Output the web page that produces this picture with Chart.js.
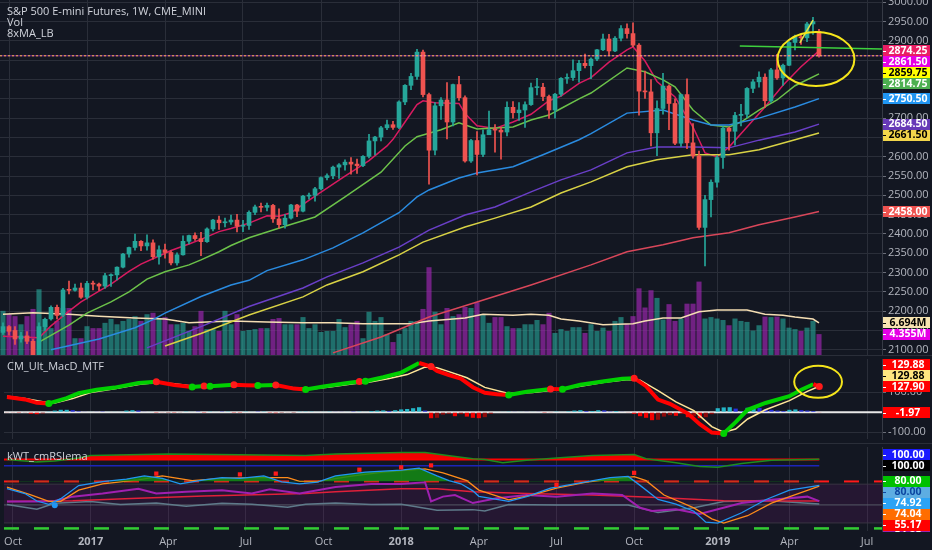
<!DOCTYPE html>
<html><head><meta charset="utf-8">
<script src="https://cdn.jsdelivr.net/npm/chart.js@4.4.1/dist/chart.umd.min.js"></script>
<style>
html,body{margin:0;padding:0;background:#131722;}
#wrap{position:relative;width:932px;height:550px;overflow:hidden;background:#131722;font-family:'Open Sans',sans-serif;}
canvas{position:absolute;left:0;}
.ttl{position:absolute;left:7px;color:#d1d4dc;font-size:11px;line-height:11px;white-space:nowrap;}
.sep{position:absolute;left:0;width:932px;height:1px;background:#2a2e39;}
</style></head><body>
<div id="wrap">
<canvas id="c1" width="932" height="355" style="top:0px"></canvas>
<canvas id="c2" width="932" height="88" style="top:355px"></canvas>
<canvas id="c3" width="932" height="107" style="top:443px"></canvas>
<div class="sep" style="top:355px"></div>
<div class="sep" style="top:443px"></div>
<div class="ttl" style="top:5px">S&amp;P 500 E-mini Futures, 1W, CME_MINI</div>
<div class="ttl" style="top:16px">Vol</div>
<div class="ttl" style="top:27px">8xMA_LB</div>
<div class="ttl" style="top:360px">CM_Ult_MacD_MTF</div>
<div class="ttl" style="top:450px">kWT_cmRSIema</div>
</div>
<script>
// ---------------- DATA ----------------
const N_SLOTS = 147;                       // weekly slots on the time axis
const firstWeekUTC = Date.UTC(2016, 8, 26); // first weekly bar
const tickIdx  = [1, 14, 27, 40, 53, 66, 79, 92, 105, 119, 131, 144];
const tickText = ['Oct','2017','Apr','Jul','Oct','2018','Apr','Jul','Oct','2019','Apr','Jul'];
const priceTicks = [2100,2150,2200,2250,2300,2350,2400,2450,2500,2550,2600,2650,2700,2750,2800,2850,2900,2950,3000];
const macdTicks = [-100, 0, 100];

const open = [2145,2160,2150,2128,2136,2122,2085,2160,2180,2210,2190,2256,2254,2260,2236,2272,2270,2265,2292,2294,
2314,2348,2365,2381,2369,2377,2341,2359,2352,2325,2346,2381,2396,2388,2380,2413,2436,2429,2431,2436,
2420,2422,2456,2470,2469,2474,2439,2424,2441,2475,2459,2498,2500,2517,2546,2551,2573,2579,2586,2581,
2577,2601,2641,2651,2675,2683,2676,2742,2785,2808,2871,2761,2617,2732,2747,2690,2787,2753,2589,2642,
2606,2657,2670,2669,2664,2728,2714,2721,2735,2779,2780,2756,2721,2762,2803,2805,2823,2842,2836,2853,
2877,2905,2874,2907,2932,2919,2889,2770,2768,2662,2725,2783,2738,2635,2761,2636,2602,2417,2489,2534,
2598,2674,2666,2707,2710,2777,2794,2806,2745,2825,2804,2837,2896,2910,2908,2944,2925];
const high = [2170,2163,2160,2145,2147,2128,2170,2182,2214,2216,2259,2278,2270,2273,2277,2278,2273,2298,2297,2315,
2350,2366,2400,2383,2398,2385,2369,2374,2356,2351,2395,2397,2403,2404,2416,2438,2446,2441,2449,2451,
2435,2460,2475,2480,2480,2477,2465,2451,2477,2477,2500,2506,2521,2548,2556,2576,2582,2592,2598,2594,
2603,2658,2653,2679,2695,2692,2745,2787,2816,2878,2876,2765,2740,2753,2792,2788,2808,2758,2645,2665,
2670,2718,2683,2676,2742,2743,2740,2742,2791,2803,2790,2760,2764,2805,2815,2851,2850,2866,2856,2878,
2918,2917,2911,2940,2944,2947,2893,2822,2800,2745,2816,2786,2750,2762,2802,2686,2615,2500,2540,2603,
2678,2677,2715,2736,2779,2800,2820,2815,2829,2865,2840,2898,2915,2918,2948,2961,2930];
const low = [2140,2138,2114,2120,2116,2080,2028,2150,2177,2180,2186,2245,2252,2233,2232,2255,2254,2259,2264,2281,
2312,2340,2358,2357,2358,2335,2322,2337,2320,2319,2345,2374,2383,2344,2378,2408,2412,2418,2425,2405,
2406,2412,2450,2457,2460,2430,2415,2415,2438,2445,2457,2490,2485,2514,2540,2543,2544,2565,2555,2557,
2574,2597,2605,2641,2670,2671,2673,2735,2774,2800,2755,2529,2605,2697,2646,2680,2746,2586,2585,2553,
2600,2657,2612,2594,2654,2700,2694,2676,2733,2760,2745,2699,2700,2757,2790,2798,2793,2830,2802,2849,
2875,2863,2872,2900,2907,2885,2708,2751,2628,2603,2710,2670,2631,2627,2621,2596,2412,2317,2444,2521,
2570,2617,2630,2680,2701,2766,2780,2728,2741,2800,2785,2836,2877,2891,2898,2917,2858];
const close = [2160,2148,2128,2136,2122,2081,2160,2179,2210,2189,2255,2254,2260,2236,2272,2270,2265,2292,2294,2314,
2348,2365,2381,2369,2377,2341,2359,2352,2325,2346,2381,2396,2388,2380,2413,2436,2429,2431,2436,2420,
2422,2456,2470,2469,2474,2439,2424,2441,2475,2459,2498,2500,2517,2546,2551,2573,2579,2586,2581,2577,
2601,2641,2651,2675,2683,2676,2742,2785,2808,2871,2761,2617,2732,2747,2690,2787,2753,2589,2642,2606,
2657,2670,2669,2664,2728,2714,2721,2735,2779,2780,2756,2721,2762,2803,2805,2823,2842,2836,2853,2877,
2905,2874,2907,2932,2919,2889,2770,2768,2662,2725,2783,2738,2635,2761,2636,2602,2417,2489,2534,2598,
2674,2666,2707,2710,2777,2794,2806,2745,2825,2804,2837,2896,2910,2908,2944,2950,2861.5];
const volumeM = [9.2,8.5,8.1,6.4,8.1,9.6,13.7,7.5,5.6,7.1,9.8,9.8,3.5,3.5,6.0,5.6,5.6,6.7,7.5,6.4,
7.1,7.5,8.1,7.1,8.5,8.8,7.7,7.9,6.4,6.4,6.7,5.0,6.0,9.2,5.4,5.4,5.0,9.2,6.4,8.5,
5.0,5.2,5.4,5.6,5.6,7.5,7.7,6.4,6.4,6.4,7.9,5.6,6.4,4.8,5.0,5.0,7.5,5.8,6.4,7.1,
3.5,9.0,7.1,7.9,4.4,2.7,4.4,5.6,7.1,7.1,9.6,18.3,9.0,6.4,9.8,8.1,8.5,10.0,9.8,11.0,
8.5,6.7,7.9,7.9,6.0,5.6,5.6,6.4,6.4,7.3,6.4,8.8,4.6,5.4,5.0,5.8,5.8,4.6,6.4,5.0,
5.7,5.0,7.1,7.9,6.5,8.1,13.9,9.9,13.5,11.9,7.4,10.6,7.1,7.6,10.7,10.7,15.3,7.6,7.9,7.6,
7.3,6.2,7.6,7.1,6.9,5.1,6.2,8.0,7.9,8.0,7.6,5.7,5.4,5.0,5.7,7.1,4.355];
const volMA = [[0,8.5],[5,8.8],[11,8.5],[16,8.1],[22,7.7],[27,7.5],[31,6.7],[38,7.1],[44,6.9],[50,6.7],[55,6.7],[60,6.5],[68,6.5],[71,7.1],[77,7.7],[80,8.5],[85,8.3],[88,8.5],[91,8.3],[93,7.5],[96,7.1],[100,6.3],[105,6.5],[107,7.1],[110,7.7],[113,7.7],[116,9.0],[119,9.4],[124,9.4],[127,8.5],[130,8.3],[132,7.9],[135,7.5],[136,6.694]];

// moving averages: [week index, price]
const maCrimson = [[0,2135],[3,2133],[6,2131],[8,2162],[11,2200],[13,2224],[16,2252],[18,2270],[21,2303],[23,2322],[26,2343],[28,2357],[31,2374],[33,2386],[36,2406],[38,2414],[41,2428],[44,2447],[46,2446],[48,2455],[52,2498],[57,2550],[61,2590],[64,2628],[65,2645],[67,2690],[69,2735],[70,2745],[72,2740],[76,2738],[77,2712],[79,2680],[82,2673],[85,2690],[88,2710],[91,2745],[93,2757],[96,2790],[98,2805],[101,2845],[104,2877],[105,2885],[107,2848],[109,2795],[112,2755],[115,2677],[117,2610],[119,2600],[121,2625],[124,2677],[127,2729],[130,2785],[133,2833],[136,2874.25]];
const maGreen = [[6,2120],[11,2164],[14,2195],[18,2224],[21,2250],[24,2283],[27,2302],[31,2320],[33,2333],[36,2354],[38,2370],[41,2390],[44,2405],[47,2420],[52,2444],[57,2496],[63,2560],[67,2628],[69,2652],[73,2670],[76,2688],[79,2672],[85,2677],[88,2695],[91,2708],[93,2725],[96,2750],[98,2765],[104,2830],[107,2820],[110,2799],[112,2781],[115,2721],[118,2682],[121,2677],[123,2690],[126,2721],[129,2747],[132,2784],[136,2814.75]];
const maBlue = [[8,2100],[16,2128],[22,2157],[25,2178],[27,2195],[33,2238],[38,2268],[41,2280],[44,2305],[50,2333],[55,2364],[60,2403],[66,2455],[69,2496],[71,2514],[76,2545],[79,2558],[85,2574],[90,2605],[96,2644],[98,2660],[104,2713],[110,2721],[115,2695],[118,2682],[121,2682],[126,2700],[132,2729],[136,2750.5]];
const maPurple = [[24,2105],[33,2160],[41,2212],[50,2260],[54,2289],[60,2325],[66,2366],[71,2410],[77,2449],[82,2470],[88,2509],[93,2540],[98,2566],[104,2610],[109,2625],[115,2625],[121,2623],[126,2643],[132,2664],[136,2684.5]];
const maYellow = [[27,2110],[33,2142],[41,2190],[50,2237],[54,2268],[60,2302],[66,2346],[70,2379],[77,2418],[82,2441],[88,2470],[93,2506],[98,2535],[104,2574],[109,2592],[115,2605],[121,2605],[126,2618],[132,2644],[136,2661.5]];
const maSalmon = [[55,2092],[63,2133],[71,2185],[79,2224],[88,2268],[98,2320],[104,2354],[110,2372],[115,2390],[121,2403],[126,2424],[132,2444],[136,2458]];

// MACD panel
const macdLine = [[0,76],[3,64],[5,47],[7,44],[10,70],[12,95],[15,112],[18,123],[22,146],[25,152],[28,136],[31,126],[33,131],[34,130],[36,134],[38,137],[40,135],[42,133],[45,136],[48,118],[50,114],[53,128],[57,146],[59,153],[60,155],[63,175],[66,198],[69,246],[71,228],[72,206],[74,186],[76,168],[78,125],[80,97],[82,90],[84,86],[87,102],[91,116],[93,115],[96,137],[100,155],[103,167],[105,170],[107,130],[109,63],[111,42],[114,-7],[116,-60],[118,-102],[120,-106],[122,-50],[124,12],[127,46],[131,80],[133,112],[135,140],[136,127.9]];
const macdSignal = [[0,80],[3,69],[6,52],[8,46],[11,68],[14,98],[18,117],[22,139],[25,149],[28,142],[31,131],[34,131],[38,135],[42,134],[45,133],[48,122],[51,116],[54,126],[58,142],[61,152],[64,168],[67,188],[70,226],[72,222],[74,203],[77,172],[80,124],[84,94],[88,99],[92,112],[96,130],[100,150],[104,164],[106,160],[109,108],[112,52],[115,8],[118,-72],[120,-100],[122,-84],[124,-34],[127,12],[131,58],[134,104],[136,129.88]];
const macdHist = [-2,-3,-4,-3,-8,-10,-6,1,8,12,12,10,5,2,3,2,1,2,2,3,
8,10,8,2,2,-1,-2,-1,-4,-3,1,2,1,-1,1,2,1,1,-1,-1,
1,2,1,1,-1,-5,-4,-2,-1,1,1,1,2,3,4,3,2,2,1,1,
2,6,8,9,6,10,14,16,20,25,8,-30,-28,-12,-8,-20,-10,-22,-28,-30,
-25,-8,2,3,4,2,3,2,3,2,-1,-2,1,2,5,8,10,6,6,10,
9,4,6,2,-2,-8,-20,-28,-40,-38,-22,-15,-18,-8,-25,-20,-30,-25,-10,20,
24,25,18,5,22,25,22,15,12,8,6,12,14,10,8,6,-1.97];
const macdDotsUp = [7,31,34,42,50,60,84,93,120];
const macdDotsDown = [25,33,38,45,59,71,91,105,136];

// RSI panel
const rsiFast = [[0,70.7],[3,64.6],[5,55],[7,50.8],[9,58],[12,74.8],[16,79.8],[20,83],[23,87],[26,84],[29,77],[33,82],[36,85],[39,84],[43,87],[46,79.5],[49,76.8],[52,79],[55,87],[60,92],[66,94.4],[69,97],[72,87],[74,81],[76,77],[78,68],[79,61],[84,54.5],[87,60.6],[91,71.6],[95,76.8],[101,85],[104,86.5],[106,75],[109,57],[112,51],[115,42],[117,28],[119,26.8],[123,40],[127,56.6],[131,68.8],[136,74.92]];
const rsiSlow = [[0,72.8],[4,62.7],[7,54.5],[9,54.5],[12,68.8],[16,76.8],[22,82],[26,87],[31,81],[36,83.8],[41,85],[47,85],[49,80],[52,80],[58,87],[63,92],[70,96],[73,91],[77,81],[79,69],[84,56.6],[88,62.7],[92,71.6],[97,79],[105,86.2],[107,81],[110,62.7],[115,46.3],[118,32.2],[120,26.8],[124,36.2],[128,52.4],[136,74.04]];
const rsiMagenta = [[0,54.5],[5,54.5],[8,55],[11,60.6],[16,64.6],[22,70.7],[25,64.6],[30,66.7],[36,68.8],[41,64.6],[44,70],[49,64.6],[55,72.8],[61,76.8],[66,76.8],[70,79],[71,54.5],[73,60.6],[75,62.7],[78,52.4],[82,58.5],[87,62.7],[92,60.6],[98,64.6],[103,62.7],[106,46.3],[108,42.3],[112,44.4],[116,38.3],[119,44.4],[123,52.4],[128,56.6],[134,60.6],[136,54.85]];
const rsiRed = [[0,54.5],[11,55.3],[22,58.5],[33,61.5],[50,64.6],[55,66.7],[66,70.7],[72,70.7],[78,66.7],[87,64.6],[98,62.7],[109,59.4],[120,55.3],[136,55.17]];
const rsiSlate = [[0,50.5],[5,44.4],[8,52],[14,54.5],[19,50.5],[25,52.4],[30,48.4],[36,52],[41,51],[47,47.2],[50,51],[55,52.4],[61,50.5],[66,51],[72,43.2],[78,44],[80,42.3],[84,50.5],[92,50],[104,50],[109,40.2],[115,46.3],[120,54.5],[127,55.7],[136,51.2]];
const kwtOsc = [[0,108],[3,106],[5,105],[8,106],[12,110],[14,113],[27,115],[39,114],[50,113],[55,115],[66,117],[70,117],[76,111],[78,109],[80,108],[83,104],[87,107],[92,110],[98,113],[105,114.5],[107,109],[112,104],[116,99],[119,98],[123,103],[128,107],[136,108.5]];
const kwtBase = 108;
const rsiMarks = [[25,90],[39,89],[45,90],[59,95],[66,98],[71,100.5],[92,75.6],[105,91]];
const rsiBlueDot = [[8,49.6]];

// ---------------- BUILD ----------------
const BG = '#131722', GRID = '#2a2e39', TXT = '#b2b5be', FONT = 'Open Sans';
const labels = Array.from({length: N_SLOTS}, (_, i) => new Date(firstWeekUTC + i * 7 * 864e5).toISOString().slice(0, 10));
const tickSet = new Set(tickIdx);
const tickLabel = {}; tickIdx.forEach((t, k) => tickLabel[t] = tickText[k]);
const yearSet = new Set(tickIdx.filter((t, k) => /^\d{4}$/.test(tickText[k])));
const pts = pairs => pairs.map(([i, v]) => ({ x: i, y: v }));
const UP = '#26a69a', DOWN = '#ef5350';
const candleColor = close.map((c, i) => c >= open[i] ? UP : DOWN);
const volColor = close.map((c, i) => c >= open[i] ? 'rgba(38,166,154,0.62)' : 'rgba(156,39,176,0.68)');
const histColor = macdHist.map((v, i) => { const p = i ? macdHist[i - 1] : 0;
  if (v >= 0) return v >= p ? 'rgba(38,198,218,0.9)' : 'rgba(40,50,235,0.95)';
  return v <= p ? 'rgba(255,0,0,0.95)' : 'rgba(150,10,10,0.95)'; });

function drawItems(chart, items) {
  const {ctx, chartArea: ca, scales} = chart; const xs = scales.xl;
  ctx.save(); ctx.beginPath(); ctx.rect(ca.left, ca.top, ca.right - ca.left, ca.bottom - ca.top); ctx.clip();
  items.forEach(it => {
    const ys = scales[it.axis || 'y'];
    ctx.strokeStyle = it.color; ctx.fillStyle = it.color; ctx.lineWidth = it.width || 1; ctx.setLineDash(it.dash || []);
    if (it.type === 'h') {
      const y = ys.getPixelForValue(it.value);
      const x1 = it.from != null ? xs.getPixelForValue(it.from) : ca.left;
      const x2 = it.to != null ? xs.getPixelForValue(it.to) : ca.right;
      ctx.beginPath(); ctx.moveTo(x1, y); ctx.lineTo(x2, y); ctx.stroke();
    } else if (it.type === 'band') {
      const y1 = ys.getPixelForValue(it.hi), y2 = ys.getPixelForValue(it.lo);
      ctx.fillRect(ca.left, y1, ca.right - ca.left, y2 - y1);
    } else if (it.type === 'seg') {
      ctx.beginPath(); ctx.moveTo(xs.getPixelForValue(it.x1), ys.getPixelForValue(it.y1));
      ctx.lineTo(xs.getPixelForValue(it.x2), ys.getPixelForValue(it.y2)); ctx.stroke();
    } else if (it.type === 'ellipse') {
      const cx = xs.getPixelForValue(it.cx), cy = ys.getPixelForValue(it.cy);
      const rx = Math.abs(xs.getPixelForValue(it.cx + it.rx) - cx), ry = Math.abs(ys.getPixelForValue(it.cy + it.ry) - cy);
      ctx.beginPath(); ctx.ellipse(cx, cy, rx, ry, 0, 0, Math.PI * 2); ctx.stroke();
    }
  });
  ctx.restore();
}
function drawBoxes(chart, groups, clipBottom) {
  const {ctx, chartArea: ca, scales} = chart; const H = 11;
  ctx.save();
  if (clipBottom) { ctx.beginPath(); ctx.rect(0, 0, chart.width, ca.bottom + 1); ctx.clip(); }
  groups.forEach(g => {
    let prev = null;
    g.items.forEach(it => {
      let y = scales[it.axis || 'y'].getPixelForValue(it.value);
      if (prev !== null) y = g.dir === 'down' ? Math.max(y, prev + H) : Math.min(y, prev - H);
      prev = y;
      ctx.fillStyle = it.bg; ctx.fillRect(883, Math.round(y - H / 2), 47, H);
      ctx.fillStyle = it.fg; ctx.fillRect(883, Math.round(y), 3, 1);
      ctx.font = 'bold 10.5px ' + FONT; ctx.textAlign = 'center'; ctx.textBaseline = 'middle';
      ctx.fillText(it.text, 908, Math.round(y) + 0.5);
    });
  });
  ctx.restore();
}
const overlay = {
  id: 'overlay',
  beforeDatasetsDraw(chart, a, o) { drawItems(chart, o.before || []); },
  afterDatasetsDraw(chart, a, o) { drawItems(chart, o.after || []); },
  afterDraw(chart, a, o) { drawBoxes(chart, o.boxes || [], o.clipBottom); }
};
Chart.register(overlay);

function xScale(show) {
  return {
    type: 'category', offset: true,
    grid: { offset: false, drawTicks: false, color: c => tickSet.has(c.index) ? GRID : 'rgba(0,0,0,0)' },
    border: { display: false },
    ticks: { display: show, autoSkip: false, maxRotation: 0, minRotation: 0, padding: 4, color: TXT,
      callback: (v, i) => tickLabel[i] || '',
      font: c => ({ family: FONT, size: 11, weight: yearSet.has(c.index) ? 'bold' : 'normal' }) },
    afterFit: s => { s.height = show ? 19 : 0; s.paddingLeft = 0; s.paddingRight = 0; }
  };
}
// hidden linear twin of the time axis, so lines can use [week index, value] points
const xLine = { type: 'linear', display: false, min: -0.5, max: N_SLOTS - 0.5, offset: false };
function yScale(min, max, ticks, showGrid, showLabels) {
  return {
    position: 'right', min, max,
    afterBuildTicks: s => { s.ticks = ticks.map(v => ({ value: v })); },
    afterFit: s => { s.width = 50; s.paddingTop = 0; s.paddingBottom = 0; },
    grid: { color: showGrid ? GRID : 'rgba(0,0,0,0)', tickColor: '#6a6d78', tickLength: 4 },
    border: { display: true, color: '#363a45' },
    ticks: { display: showLabels, color: TXT, padding: 2, font: { family: FONT, size: 11 }, callback: v => Number(v).toFixed(2) }
  };
}
const baseOpts = { responsive: false, animation: false, devicePixelRatio: 1, layout: { padding: 0 },
  events: [], plugins: { legend: { display: false }, tooltip: { enabled: false } } };
const lineDs = (pairs, color, width, axis, order, extra) => Object.assign({
  type: 'line', data: pts(pairs), borderColor: color, borderWidth: width, pointRadius: 0,
  tension: 0, xAxisID: 'xl', yAxisID: axis || 'y', order: order || 5, fill: false }, extra || {});

// -------- main price panel --------
new Chart(document.getElementById('c1'), {
  type: 'bar',
  data: { labels, datasets: [
    { type: 'bar', data: volumeM, xAxisID: 'x', yAxisID: 'yv', backgroundColor: volColor, barPercentage: 0.85, categoryPercentage: 1, grouped: false, order: 20 },
    lineDs(volMA, '#f5deb3', 1.5, 'yv', 19),
    lineDs(maSalmon, '#d9475a', 1.5, 'y', 8),
    lineDs(maYellow, '#d8d245', 1.5, 'y', 8),
    lineDs(maPurple, '#6a3fc8', 1.5, 'y', 8),
    lineDs(maBlue, '#2a8be0', 1.5, 'y', 8),
    lineDs(maGreen, '#6cc24a', 1.5, 'y', 8),
    lineDs(maCrimson, '#d81b60', 1.5, 'y', 8),
    { type: 'bar', data: low.map((l, i) => [l, high[i]]), xAxisID: 'x', yAxisID: 'y', backgroundColor: candleColor, barThickness: 1, grouped: false, order: 3 },
    { type: 'bar', data: open.map((o, i) => [o, close[i]]), xAxisID: 'x', yAxisID: 'y', backgroundColor: candleColor, barThickness: 4, minBarLength: 1, grouped: false, order: 2 }
  ]},
  options: Object.assign({}, baseOpts, {
    scales: { x: xScale(false), xl: xLine, y: yScale(2086.5, 3006, priceTicks, true, true), yv: { display: false, min: 0, max: 74 } },
    plugins: Object.assign({}, baseOpts.plugins, { overlay: {
      after: [
        { type: 'h', value: 2861.5, color: 'rgba(224,64,251,0.55)', width: 1 },
        { type: 'h', value: 2861.5, color: '#ffb74d', width: 1, dash: [2, 2] },
        { type: 'seg', x1: 122.8, y1: 2887, x2: 146.5, y2: 2879, color: '#3ed13e', width: 1.5 },
        { type: 'seg', x1: 132.8, y1: 2895, x2: 135, y2: 2954, color: '#e4e44a', width: 1.5 },
        { type: 'ellipse', cx: 135.5, cy: 2853, rx: 6.4, ry: 70, color: '#f5e51b', width: 2 }
      ],
      boxes: [
        { dir: 'down', items: [
          { value: 2874.25, text: '2874.25', bg: '#e91e63', fg: '#fff' },
          { value: 2861.5, text: '2861.50', bg: '#e600e6', fg: '#fff' },
          { value: 2859.75, text: '2859.75', bg: '#ffff00', fg: '#000' },
          { value: 2814.75, text: '2814.75', bg: '#4caf50', fg: '#fff' },
          { value: 2750.5, text: '2750.50', bg: '#2196f3', fg: '#fff' },
          { value: 2684.5, text: '2684.50', bg: '#673ab7', fg: '#fff' },
          { value: 2661.5, text: '2661.50', bg: '#f2d64b', fg: '#000' },
          { value: 2458, text: '2458.00', bg: '#ef5350', fg: '#fff' } ] },
        { dir: 'down', items: [
          { axis: 'yv', value: 6.694, text: '6.694M', bg: '#f7e4b0', fg: '#000' },
          { axis: 'yv', value: 4.355, text: '4.355M', bg: '#e600e6', fg: '#fff' } ] }
      ]
    } })
  })
});

// -------- MACD panel --------
const dotKind = {}; macdDotsUp.forEach(i => dotKind[i] = '#00d000'); macdDotsDown.forEach(i => dotKind[i] = '#ff1a1a');
const macdDots = macdLine.filter(([i]) => dotKind[i]);
new Chart(document.getElementById('c2'), {
  type: 'bar',
  data: { labels, datasets: [
    { type: 'bar', data: macdHist, xAxisID: 'x', backgroundColor: histColor, barPercentage: 0.7, categoryPercentage: 1, grouped: false, order: 10 },
    lineDs(macdSignal, '#ffe699', 1.5, 'y', 6),
    lineDs(macdLine, '#00d000', 4, 'y', 5, { segment: { borderColor: c => c.p1.parsed.y >= c.p0.parsed.y ? '#00d000' : '#ff0000' } }),
    lineDs(macdDots, 'rgba(0,0,0,0)', 0, 'y', 1, { showLine: false, pointRadius: 3.5, pointBorderWidth: 0,
      pointBackgroundColor: macdDots.map(([i]) => dotKind[i]) })
  ]},
  options: Object.assign({}, baseOpts, {
    scales: { x: xScale(false), xl: xLine, y: yScale(-134, 266, macdTicks, true, true) },
    plugins: Object.assign({}, baseOpts.plugins, { overlay: {
      before: [ { type: 'h', value: 0, color: '#e8e8e8', width: 2 } ],
      after: [ { type: 'ellipse', cx: 135.8, cy: 152, rx: 4, ry: 80, color: '#f5e51b', width: 2 } ],
      boxes: [
        { dir: 'up', items: [
          { value: 127.9, text: '127.90', bg: '#ff0000', fg: '#fff' },
          { value: 129.88, text: '129.88', bg: '#ffe680', fg: '#000' },
          { value: 129.88, text: '129.88', bg: '#ff0000', fg: '#fff' } ] },
        { dir: 'down', items: [ { value: -1.97, text: '-1.97', bg: '#ff0000', fg: '#fff' } ] }
      ]
    } })
  })
});

// -------- RSI panel --------
new Chart(document.getElementById('c3'), {
  type: 'line',
  data: { labels, datasets: [
    lineDs(kwtOsc, '#1e8c1e', 1.5, 'y', 9, { fill: { target: { value: kwtBase }, above: 'rgba(255,0,0,0.95)', below: 'rgba(0,0,0,0)' } }),
    lineDs(rsiSlate, '#5f7a8a', 1.5, 'y', 8),
    lineDs(rsiRed, '#e0203a', 1.5, 'y', 7),
    lineDs(rsiMagenta, '#a020b0', 2, 'y', 6),
    lineDs(rsiSlow, '#ff8c1a', 1.3, 'y', 5),
    lineDs(rsiFast, '#2196f3', 1.3, 'y', 4, { fill: { target: { value: 80 }, above: 'rgba(20,140,20,0.85)', below: 'rgba(0,0,0,0)' } }),
    lineDs(rsiMarks, 'rgba(0,0,0,0)', 0, 'y', 1, { showLine: false, pointStyle: 'rect', pointRadius: 3, pointBorderWidth: 0, pointBackgroundColor: '#ff1a1a' }),
    lineDs(rsiBlueDot, 'rgba(0,0,0,0)', 0, 'y', 1, { showLine: false, pointRadius: 3, pointBorderWidth: 0, pointBackgroundColor: '#2196f3' })
  ]},
  options: Object.assign({}, baseOpts, {
    scales: { x: xScale(true), xl: xLine, y: yScale(16.7, 124, [], false, false) },
    plugins: Object.assign({}, baseOpts.plugins, { overlay: {
      before: [
        { type: 'band', hi: 76.5, lo: 27, color: 'rgba(120,30,130,0.18)' },
        { type: 'h', value: 76.5, color: '#3a3444', width: 1 },
        { type: 'h', value: 27, color: '#3a3444', width: 1 },
        { type: 'h', value: 50, color: '#555a66', width: 1 },
        { type: 'h', value: 100, color: '#1c24b8', width: 1.5, to: 136 },
        { type: 'h', value: 80, color: '#ff1a1a', width: 2, dash: [15, 15] },
        { type: 'h', value: 20, color: '#33cc33', width: 2.5, dash: [15, 15] },
        { type: 'h', value: kwtBase, color: '#ff0000', width: 2, to: 136 }
      ],
      clipBottom: true,
      boxes: [
        { dir: 'up', items: [
          { value: 100, text: '100.00', bg: '#000000', fg: '#fff' },
          { value: 100, text: '100.00', bg: '#1a1aff', fg: '#fff' } ] },
        { dir: 'down', items: [
          { value: 80, text: '80.00', bg: '#00c000', fg: '#fff' },
          { value: 80, text: '80.00', bg: '#5dade2', fg: '#0d47a1' },
          { value: 74.92, text: '74.92', bg: '#2ba3f5', fg: '#fff' },
          { value: 74.04, text: '74.04', bg: '#ff6d00', fg: '#fff' },
          { value: 55.17, text: '55.17', bg: '#ff0000', fg: '#fff' },
          { value: 54.85, text: '54.85', bg: '#9c27b0', fg: '#fff' } ] }
      ]
    } })
  })
});
</script>
</body></html>
